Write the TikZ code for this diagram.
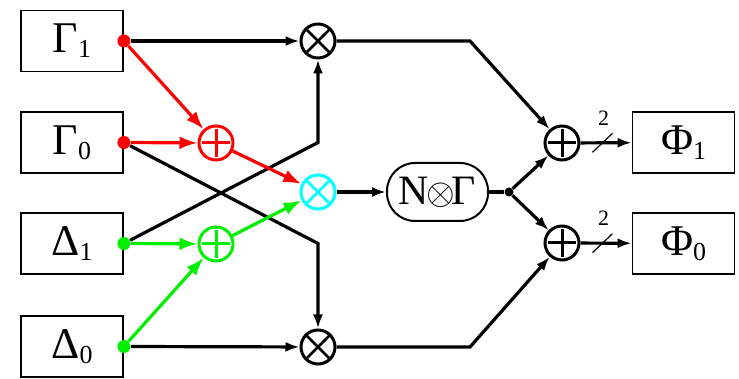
\documentclass[tikz,border=0pt]{standalone}
\usepackage{fontspec}
\setmainfont{Liberation Serif}
\usetikzlibrary{arrows.meta,calc}

\definecolor{mixcyan}{RGB}{0,255,255}
\definecolor{sumgreen}{RGB}{0,240,0}

% signal name with a lowered index
\newcommand{\sig}[2]{#1\raisebox{-2.5bp}{\fontsize{13}{13}\selectfont #2}}

\tikzset{
  block/.style={draw, line width=0.9bp, minimum width=51bp, minimum height=30.5bp,
    inner sep=0pt, font=\fontsize{22}{24}\selectfont},
  op/.style={circle, draw, line width=1.5bp, minimum size=17bp, inner sep=0pt},
  add/.style={op, path picture={
    \draw[line width=1.5bp]
      ([xshift=-7bp]path picture bounding box.center) -- ([xshift=7bp]path picture bounding box.center)
      ([yshift=-7bp]path picture bounding box.center) -- ([yshift=7bp]path picture bounding box.center);}},
  mul/.style={op, path picture={
    \draw[line width=1.4bp]
      ([shift={(-5.5bp,-5.5bp)}]path picture bounding box.center) -- ([shift={(5.5bp,5.5bp)}]path picture bounding box.center)
      ([shift={(-5.5bp,5.5bp)}]path picture bounding box.center) -- ([shift={(5.5bp,-5.5bp)}]path picture bounding box.center);}},
  tap/.style={circle, fill, inner sep=0pt, minimum size=6.5bp},
  wire/.style={line width=1.6bp, -{Latex[length=7bp,width=5bp]}},
  bigwire/.style={line width=1.6bp, -{Latex[length=9bp,width=6.5bp]}},
}

\begin{document}
\begin{tikzpicture}[x=0.5bp,y=-0.5bp]
\useasboundingbox (0,0) rectangle (739,379);

% Inputs
\node[block] (g1) at (72,41) {\sig{Γ}{1}};
\node[block] (g0) at (72,142.5) {\sig{Γ}{0}};
\node[block] (d1) at (72,243.5) {\sig{Δ}{1}};
\node[block] (d0) at (72,346.5) {\sig{Δ}{0}};

% Outputs
\node[block] (f1) at (683.5,142.5) {\sig{Φ}{1}};
\node[block] (f0) at (683.5,243.5) {\sig{Φ}{0}};

% Operators
\node[mul] (mtop) at (318,41) {};
\node[add,red] (ared) at (216,143) {};
\node[mul,mixcyan] (mmid) at (318,192) {};
\node[add,sumgreen] (agrn) at (216,244) {};
\node[mul] (mbot) at (318,347) {};
\node[draw, rounded corners=14bp, line width=1bp, minimum width=50.5bp, minimum height=29bp,
  inner sep=0pt, font=\fontsize{21}{22}\selectfont] (ng) at (437.5,192)
  {N\kern-1.5bp\raisebox{0bp}{\scalebox{1.85}{\normalsize$\otimes$}}\kern-1.5bp Γ};
\node[add] (stop) at (562,143) {};
\node[add] (sbot) at (562,243) {};

% Taps
\node[tap,red] (g1t) at (g1.east) {};
\node[tap,red] (g0t) at (g0.east) {};
\node[tap,sumgreen] (d1t) at (d1.east) {};
\node[tap,sumgreen] (d0t) at (d0.east) {};
\node[tap, minimum size=4.5bp] (br) at (509,192) {};
\coordinate (ktop) at (470,41);
\coordinate (kbot) at (470,347);

% Direct paths
\draw[wire] (g1t) -- (mtop);
\draw[wire] (d0t) -- (mbot);
\draw[wire] (d1t) -- (mtop |- g0t) -- (mtop);
\draw[wire] (g0t) -- (mbot |- d1t) -- (mbot);

% Sums
\draw[bigwire,red] (g1t) -- (ared);
\draw[bigwire,red] (g0t) -- (ared);
\draw[bigwire,red] (ared) -- (mmid);
\draw[bigwire,sumgreen] (d1t) -- (agrn);
\draw[bigwire,sumgreen] (d0t) -- (agrn);
\draw[bigwire,sumgreen] (agrn) -- (mmid);

% Middle branch
\draw[wire] (mmid) -- (ng);
\draw[line width=1.6bp] (ng) -- (br);
\draw[wire] (br) -- (stop);
\draw[wire] (br) -- (sbot);
\draw[wire] (mtop) -- (ktop) -- (stop);
\draw[wire] (mbot) -- (kbot) -- (sbot);

% Outputs, 2 bits wide
\draw[wire] (stop) -- (f1) coordinate[pos=0.43] (b1);
\draw[wire] (sbot) -- (f0) coordinate[pos=0.43] (b0);
\draw[line width=0.6bp] ($(b1)+(-10,9.5)$) -- ($(b1)+(10,-9.5)$);
\draw[line width=0.6bp] ($(b0)+(-10,9.5)$) -- ($(b0)+(10,-9.5)$);
\node[font=\fontsize{11}{11}\selectfont] (w1) at ($(b1)+(1,-25)$) {2};
\node[font=\fontsize{11}{11}\selectfont] (w0) at ($(b0)+(1,-25)$) {2};
\end{tikzpicture}
\end{document}
